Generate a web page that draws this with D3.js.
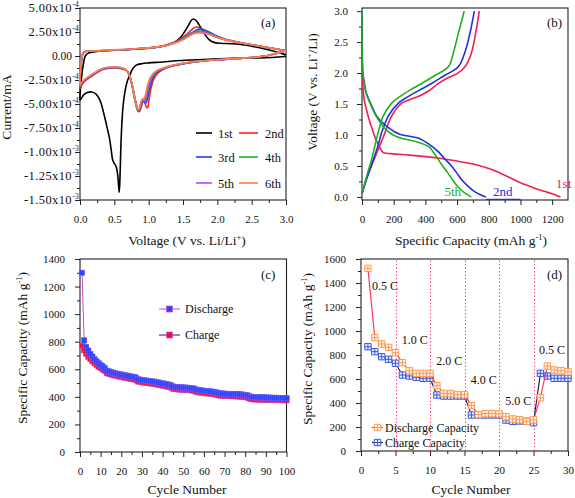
<!DOCTYPE html>
<html><head><meta charset="utf-8">
<script src="https://cdn.jsdelivr.net/npm/d3@7"></script>
<style>
body{margin:0;background:#fff}
svg{display:block}
text{font-family:"Liberation Serif","Times New Roman",serif;fill:#111}
.tick text{font-size:11px;font-family:"Liberation Serif","Times New Roman",serif;fill:#111}
.tick line{stroke:#222}
</style></head><body>
<svg id="c" width="575" height="498"></svg>
<script>
// ---------------- Panel (a): cyclic voltammetry, [V, I(mA)] ----------------
const cvNames = ["1st","2nd","3rd","4th","5th","6th"];
const cvColors = ["#000000","#ff2020","#2040ff","#20b020","#c040f0","#ff7f40"];
const cv1st = [
[3.00,-0.05e-4],[2.80,-0.15e-4],[2.60,-0.2e-4],[2.40,-0.22e-4],[2.20,-0.25e-4],[2.00,-0.3e-4],[1.80,-0.36e-4],[1.60,-0.42e-4],[1.40,-0.5e-4],[1.20,-0.62e-4],[1.00,-0.72e-4],[0.90,-0.8e-4],[0.82,-0.95e-4],[0.77,-1.3e-4],[0.73,-1.9e-4],[0.69,-2.6e-4],[0.66,-3.5e-4],[0.63,-5.0e-4],[0.61,-7.0e-4],[0.595,-9.5e-4],[0.583,-12.5e-4],[0.572,-14.2e-4],[0.562,-13.5e-4],[0.548,-12.3e-4],[0.525,-11.5e-4],[0.50,-11.2e-4],[0.475,-10.8e-4],[0.455,-9.8e-4],[0.43,-8.6e-4],[0.39,-7.3e-4],[0.34,-5.8e-4],[0.29,-4.6e-4],[0.23,-3.95e-4],[0.17,-3.75e-4],[0.11,-3.8e-4],[0.06,-4.0e-4],[0.02,-4.4e-4],[0.00,-4.6e-4],
[0.005,-3.6e-4],[0.02,-2.4e-4],[0.045,-1.0e-4],[0.08,0.05e-4],[0.12,0.3e-4],[0.20,0.42e-4],[0.40,0.55e-4],[0.60,0.63e-4],[0.80,0.72e-4],[1.00,0.82e-4],[1.15,0.95e-4],[1.28,1.15e-4],[1.38,1.45e-4],[1.46,1.9e-4],[1.53,2.6e-4],[1.58,3.2e-4],[1.62,3.7e-4],[1.65,3.85e-4],[1.69,3.7e-4],[1.73,3.3e-4],[1.78,2.7e-4],[1.83,2.15e-4],[1.88,1.7e-4],[1.95,1.42e-4],[2.05,1.32e-4],[2.20,1.28e-4],[2.40,1.15e-4],[2.60,0.88e-4],[2.80,0.55e-4],[2.92,0.3e-4],[3.00,0.1e-4]];
const cv2nd = [
[3.0,0.55e-4],[2.85,0.25e-4],[2.7,0.0],[2.5,-0.15e-4],[2.3,-0.25e-4],[2.1,-0.35e-4],[1.9,-0.45e-4],[1.7,-0.6e-4],[1.55,-0.75e-4],[1.4,-0.95e-4],[1.3,-1.15e-4],[1.2,-1.45e-4],[1.12,-1.9e-4],[1.07,-2.5e-4],[1.03,-3.5e-4],[1.0,-4.8e-4],[0.985,-5.4e-4],[0.965,-5.3e-4],[0.94,-4.8e-4],[0.92,-4.75e-4],[0.895,-5.2e-4],[0.87,-5.75e-4],[0.85,-5.8e-4],[0.83,-5.4e-4],[0.8,-4.5e-4],[0.77,-3.4e-4],[0.74,-2.5e-4],[0.71,-1.85e-4],[0.67,-1.5e-4],[0.6,-1.32e-4],[0.5,-1.25e-4],[0.4,-1.3e-4],[0.3,-1.5e-4],[0.2,-1.95e-4],[0.12,-2.35e-4],[0.06,-2.7e-4],[0.02,-3.1e-4],[0.0,-3.4e-4],
[0.0,-2.6e-4],[0.015,-1.2e-4],[0.035,0.1e-4],[0.06,0.4e-4],[0.12,0.5e-4],[0.3,0.55e-4],[0.5,0.62e-4],[0.7,0.68e-4],[0.9,0.78e-4],[1.1,0.92e-4],[1.25,1.15e-4],[1.38,1.45e-4],[1.48,1.85e-4],[1.56,2.3e-4],[1.62,2.7e-4],[1.68,3.0e-4],[1.74,2.95e-4],[1.82,2.6e-4],[1.92,2.15e-4],[2.05,1.8e-4],[2.2,1.55e-4],[2.4,1.3e-4],[2.6,1.05e-4],[2.8,0.8e-4],[3.0,0.55e-4]];
const cv3rd = [
[3.0,0.55e-4],[2.85,0.25e-4],[2.7,0.0],[2.5,-0.15e-4],[2.3,-0.25e-4],[2.1,-0.35e-4],[1.9,-0.45e-4],[1.7,-0.6e-4],[1.55,-0.75e-4],[1.4,-0.95e-4],[1.3,-1.12e-4],[1.2,-1.38e-4],[1.1,-1.85e-4],[1.05,-2.5e-4],[1.01,-3.5e-4],[0.98,-4.5e-4],[0.96,-4.9e-4],[0.94,-4.8e-4],[0.92,-4.7e-4],[0.895,-5.1e-4],[0.87,-5.6e-4],[0.85,-5.7e-4],[0.83,-5.3e-4],[0.8,-4.4e-4],[0.77,-3.3e-4],[0.74,-2.4e-4],[0.71,-1.8e-4],[0.67,-1.45e-4],[0.6,-1.28e-4],[0.5,-1.2e-4],[0.4,-1.25e-4],[0.3,-1.45e-4],[0.2,-1.9e-4],[0.12,-2.3e-4],[0.06,-2.6e-4],[0.02,-3.0e-4],[0.0,-3.3e-4],
[0.0,-2.5e-4],[0.015,-1.1e-4],[0.035,0.1e-4],[0.06,0.4e-4],[0.12,0.5e-4],[0.3,0.55e-4],[0.5,0.62e-4],[0.7,0.68e-4],[0.9,0.78e-4],[1.1,0.9e-4],[1.25,1.1e-4],[1.38,1.4e-4],[1.48,1.75e-4],[1.58,2.2e-4],[1.66,2.55e-4],[1.74,2.8e-4],[1.8,2.75e-4],[1.88,2.5e-4],[1.96,2.2e-4],[2.08,1.85e-4],[2.2,1.6e-4],[2.4,1.3e-4],[2.6,1.05e-4],[2.8,0.8e-4],[3.0,0.55e-4]];
const cv4th = [
[3.0,0.55e-4],[2.85,0.25e-4],[2.7,0.0],[2.5,-0.15e-4],[2.3,-0.25e-4],[2.1,-0.35e-4],[1.9,-0.45e-4],[1.7,-0.58e-4],[1.55,-0.72e-4],[1.4,-0.92e-4],[1.3,-1.1e-4],[1.2,-1.32e-4],[1.1,-1.7e-4],[1.04,-2.3e-4],[1.0,-3.2e-4],[0.97,-4.2e-4],[0.945,-4.7e-4],[0.925,-4.6e-4],[0.905,-4.75e-4],[0.88,-5.3e-4],[0.86,-5.65e-4],[0.84,-5.7e-4],[0.82,-5.3e-4],[0.79,-4.3e-4],[0.76,-3.2e-4],[0.73,-2.3e-4],[0.7,-1.75e-4],[0.66,-1.42e-4],[0.6,-1.25e-4],[0.5,-1.18e-4],[0.4,-1.23e-4],[0.3,-1.42e-4],[0.2,-1.85e-4],[0.12,-2.25e-4],[0.06,-2.55e-4],[0.02,-2.9e-4],[0.0,-3.2e-4],
[0.0,-2.4e-4],[0.015,-1.0e-4],[0.035,0.1e-4],[0.06,0.4e-4],[0.12,0.5e-4],[0.3,0.55e-4],[0.5,0.62e-4],[0.7,0.68e-4],[0.9,0.78e-4],[1.1,0.9e-4],[1.25,1.1e-4],[1.38,1.38e-4],[1.48,1.7e-4],[1.57,2.1e-4],[1.65,2.45e-4],[1.73,2.6e-4],[1.8,2.55e-4],[1.88,2.35e-4],[1.96,2.1e-4],[2.08,1.8e-4],[2.2,1.58e-4],[2.4,1.3e-4],[2.6,1.05e-4],[2.8,0.8e-4],[3.0,0.55e-4]];
const cv5th = [
[3.0,0.55e-4],[2.85,0.25e-4],[2.7,0.0],[2.5,-0.15e-4],[2.3,-0.25e-4],[2.1,-0.35e-4],[1.9,-0.45e-4],[1.7,-0.58e-4],[1.55,-0.72e-4],[1.4,-0.9e-4],[1.3,-1.08e-4],[1.2,-1.3e-4],[1.1,-1.65e-4],[1.04,-2.2e-4],[0.995,-3.1e-4],[0.965,-4.1e-4],[0.937,-4.6e-4],[0.918,-4.55e-4],[0.9,-4.7e-4],[0.875,-5.25e-4],[0.855,-5.6e-4],[0.84,-5.6e-4],[0.82,-5.2e-4],[0.79,-4.2e-4],[0.76,-3.1e-4],[0.73,-2.25e-4],[0.7,-1.72e-4],[0.66,-1.4e-4],[0.6,-1.23e-4],[0.5,-1.16e-4],[0.4,-1.2e-4],[0.3,-1.4e-4],[0.2,-1.82e-4],[0.12,-2.2e-4],[0.06,-2.5e-4],[0.02,-2.85e-4],[0.0,-3.1e-4],
[0.0,-2.3e-4],[0.015,-0.9e-4],[0.035,0.15e-4],[0.06,0.42e-4],[0.12,0.5e-4],[0.3,0.56e-4],[0.5,0.63e-4],[0.7,0.7e-4],[0.9,0.8e-4],[1.1,0.92e-4],[1.25,1.1e-4],[1.38,1.36e-4],[1.48,1.66e-4],[1.57,2.02e-4],[1.65,2.36e-4],[1.73,2.5e-4],[1.8,2.46e-4],[1.88,2.3e-4],[1.96,2.06e-4],[2.08,1.78e-4],[2.2,1.56e-4],[2.4,1.3e-4],[2.6,1.05e-4],[2.8,0.8e-4],[3.0,0.55e-4]];
const cv6th = [
[3.0,0.55e-4],[2.85,0.25e-4],[2.7,0.0],[2.5,-0.15e-4],[2.3,-0.25e-4],[2.1,-0.35e-4],[1.9,-0.45e-4],[1.7,-0.57e-4],[1.55,-0.7e-4],[1.4,-0.88e-4],[1.3,-1.05e-4],[1.2,-1.27e-4],[1.1,-1.6e-4],[1.03,-2.15e-4],[0.985,-3.0e-4],[0.955,-4.0e-4],[0.928,-4.5e-4],[0.91,-4.45e-4],[0.893,-4.65e-4],[0.872,-5.2e-4],[0.855,-5.6e-4],[0.84,-5.55e-4],[0.82,-5.1e-4],[0.79,-4.1e-4],[0.76,-3.0e-4],[0.73,-2.2e-4],[0.7,-1.7e-4],[0.66,-1.38e-4],[0.6,-1.21e-4],[0.5,-1.14e-4],[0.4,-1.18e-4],[0.3,-1.38e-4],[0.2,-1.8e-4],[0.12,-2.18e-4],[0.06,-2.48e-4],[0.02,-2.8e-4],[0.0,-3.05e-4],
[0.0,-2.2e-4],[0.015,-0.8e-4],[0.035,0.2e-4],[0.06,0.45e-4],[0.12,0.52e-4],[0.3,0.57e-4],[0.5,0.64e-4],[0.7,0.71e-4],[0.9,0.8e-4],[1.1,0.92e-4],[1.25,1.1e-4],[1.38,1.35e-4],[1.48,1.63e-4],[1.57,1.98e-4],[1.65,2.3e-4],[1.72,2.4e-4],[1.8,2.37e-4],[1.88,2.24e-4],[1.96,2.02e-4],[2.08,1.76e-4],[2.2,1.55e-4],[2.4,1.3e-4],[2.6,1.05e-4],[2.8,0.8e-4],[3.0,0.55e-4]];
const cvSeries = [cv1st, cv2nd, cv3rd, cv4th, cv5th, cv6th];
const aXTicks = [0,0.5,1,1.5,2,2.5,3];
const aXTickLabels = ["0.0","0.5","1.0","1.5","2.0","2.5","3.0"];
const aYTicks = [5e-4,2.5e-4,0,-2.5e-4,-5e-4,-7.5e-4,-1e-3,-1.25e-3,-1.5e-3];
const aYTickLabels = [["5.00x10","-4"],["2.50x10","-4"],["0.00",""],["-2.50x10","-4"],["-5.00x10","-4"],["-7.50x10","-4"],["-1.00x10","-3"],["-1.25x10","-3"],["-1.50x10","-3"]];

// ---------------- Panel (b): galvanostatic profiles, [capacity, V] ----------------
const gcNames = ["1st","2nd","5th"];
const gcColors = ["#f0204f","#2030e0","#20b020"];
const dis1st = [[0,3.0],[0,2.4],[3,1.9],[8,1.7],[15,1.55],[29,1.40],[45,1.25],[60,1.13],[80,0.98],[100,0.86],[118,0.77],[132,0.72],[150,0.705],[200,0.695],[300,0.675],[400,0.65],[500,0.62],[600,0.58],[700,0.53],[800,0.46],[850,0.41],[900,0.35],[950,0.29],[1000,0.23],[1050,0.18],[1100,0.13],[1150,0.09],[1200,0.05],[1253,0.0]];
const cha1st = [[0,0.05],[30,0.3],[60,0.5],[100,0.75],[144,1.03],[186,1.3],[249,1.51],[300,1.57],[354,1.62],[420,1.71],[481,1.83],[540,1.92],[600,1.99],[650,2.1],[690,2.32],[717,2.64],[740,3.0]];
const dis2nd = [[0,3.0],[0,2.6],[2,2.2],[6,2.0],[14,1.85],[28,1.67],[56,1.5],[94,1.3],[171,1.11],[238,1.01],[300,0.98],[354,0.95],[418,0.86],[481,0.73],[520,0.62],[565,0.5],[600,0.38],[628,0.28],[670,0.17],[713,0.08],[750,0.03],[782,0.0]];
const cha2nd = [[0,0.05],[30,0.3],[60,0.52],[100,0.82],[123,1.03],[165,1.3],[228,1.51],[291,1.62],[360,1.72],[439,1.83],[520,1.96],[608,2.1],[650,2.34],[681,2.64],[709,3.0]];
const dis5th = [[0,3.0],[0,2.6],[2,2.2],[5,2.0],[12,1.85],[25,1.68],[53,1.5],[90,1.3],[143,1.11],[196,1.0],[260,0.94],[333,0.9],[400,0.84],[428,0.8],[450,0.72],[470,0.65],[500,0.53],[544,0.38],[575,0.26],[607,0.16],[650,0.06],[690,0.0]];
const cha5th = [[0,0.05],[30,0.34],[60,0.6],[101,1.03],[133,1.3],[186,1.51],[239,1.62],[300,1.72],[376,1.83],[460,1.96],[545,2.1],[580,2.36],[608,2.64],[645,3.0]];
const tail2nd = [[782,-0.04],[1000,-0.04]];
const bXTicks = [0,200,400,600,800,1000,1200];
const bXTickLabels = ["0","200","400","600","800","1000","1200"];
const bYTicks = [0,0.5,1,1.5,2,2.5,3];
const bYTickLabels = ["0.0","0.5","1.0","1.5","2.0","2.5","3.0"];

// ---------------- Panel (c): cycling at constant rate ----------------
const cDischarge = [
1300,810,762,735,712,692,674,658,644,632,
620,608,590,585,580,576,572,568,565,562,
559,556,553,550,547,544,540,528,525,522,
520,518,516,514,512,510,507,504,501,498,
495,492,489,485,475,473,471,470,469,468,
467,466,465,463,461,455,450,448,446,444,
442,441,440,438,436,433,428,425,424,423,
422,422,421,421,420,420,419,418,416,414,
412,405,400,398,398,397,397,396,396,395,
395,394,394,393,393,393,392,392,392,391];
const cCharge = [
770,738,712,692,675,659,645,632,620,609,
598,588,572,567,563,559,555,551,548,545,
542,539,536,533,530,527,523,512,509,506,
504,502,500,498,496,494,491,488,485,482,
479,476,473,469,459,457,455,454,453,452,
451,450,449,447,445,439,434,432,430,428,
426,425,424,422,420,417,412,409,408,407,
406,406,405,405,404,404,403,402,400,398,
396,389,384,382,382,381,381,380,380,379,
379,378,378,377,377,377,376,376,376,375];
const cXTicks = [0,10,20,30,40,50,60,70,80,90,100];
const cXTickLabels = ["0","10","20","30","40","50","60","70","80","90","100"];
const cYTicks = [0,200,400,600,800,1000,1200,1400];
const cYTickLabels = ["0","200","400","600","800","1000","1200","1400"];

// ---------------- Panel (d): rate capability ----------------
const dDischarge = [1522,944,892,864,819,736,669,647,647,647,544,480,478,470,470,378,303,312,312,310,286,267,260,247,260,444,708,675,669,660];
const dCharge = [869,828,786,764,731,633,625,614,606,606,467,458,458,458,458,300,300,300,300,300,258,247,250,247,236,647,625,606,606,606];
const dRateBreaks = [5,10,15,20,25];
const dRateLabels = ["0.5 C","1.0 C","2.0 C","4.0 C","5.0 C","0.5 C"];
const dRateLabelAt = [[1.6,1383],[5.9,933],[10.9,758],[15.9,592],[20.9,417],[25.8,850]];
const dXTicks = [0,5,10,15,20,25,30];
const dXTickLabels = ["0","5","10","15","20","25","30"];
const dYTicks = [0,200,400,600,800,1000,1200,1400,1600];
const dYTickLabels = ["0","200","400","600","800","1000","1200","1400","1600"];

// ================= drawing =================
const svg = d3.select("#c");

function frameAxes(g, x, y, o){
  const [xl,xr] = x.range(), [yb,yt] = y.range();
  const styl = s => { s.attr("font-size",null).attr("font-family",null); s.select(".domain").remove(); s.selectAll("line").attr("stroke","#222"); };
  g.append("g").attr("transform",`translate(0,${yb})`)
    .call(d3.axisBottom(x).tickValues(o.xMaj).tickFormat((d,i)=>o.xLab[i]).tickSize(5).tickPadding(o.xPad||10)).call(styl);
  g.append("g").attr("transform",`translate(0,${yb})`)
    .call(d3.axisBottom(x).tickValues(o.xMin).tickFormat("").tickSize(3)).call(styl);
  g.append("g").attr("transform",`translate(${xl},0)`)
    .call(d3.axisLeft(y).tickValues(o.yMaj).tickFormat((d,i)=>o.yLab ? o.yLab[i] : "").tickSize(5).tickPadding(o.yPad||9)).call(styl);
  g.append("g").attr("transform",`translate(${xl},0)`)
    .call(d3.axisLeft(y).tickValues(o.yMin).tickFormat("").tickSize(3)).call(styl);
  g.append("rect").attr("x",xl).attr("y",yt).attr("width",xr-xl).attr("height",yb-yt)
    .attr("fill","none").attr("stroke","#222").attr("stroke-width",1.1);
}
function title(g, txt, x, y, rot){
  const t = g.append("text").attr("font-size",13.5).attr("text-anchor","middle")
    .attr("transform", rot ? `translate(${x},${y}) rotate(-90)` : `translate(${x},${y})`);
  txt.forEach(p => {
    if (p.sup) t.append("tspan").attr("font-size",8.5).attr("dy",-5).text(p.t);
    else t.append("tspan").attr("dy", p.after ? 5 : 0).text(p.t);
  });
}

// ---- Panel (a)
{
  const g = svg.append("g");
  const x = d3.scaleLinear().domain([0,3]).range([80,286]);
  const y = d3.scaleLinear().domain([-1.5e-3,5e-4]).range([200,8]);
  const minorY = aYTicks.slice(0,-1).map((v,i)=> (v + aYTicks[i+1])/2);
  const minorX = aXTicks.slice(0,-1).map((v,i)=> (v + aXTicks[i+1])/2);
  frameAxes(g, x, y, {xMaj:aXTicks, xLab:aXTickLabels, xMin:minorX, yMaj:aYTicks, yLab:null, yMin:minorY});
  aYTicks.forEach((v,i)=>{
    const [m,e] = aYTickLabels[i];
    g.append("text").attr("x",72).attr("y",y(v)+4).attr("text-anchor","end")
      .attr("font-size", e ? 12.5 : 11.5).attr("letter-spacing", e ? 0.4 : 0).text(m);
    if (e) g.append("text").attr("x",72.5).attr("y",y(v)-1.5).attr("font-size",7.5).text(e);
  });
  const line = d3.line().x(d=>x(d[0])).y(d=>y(d[1])).curve(d3.curveCatmullRom.alpha(0.5));
  cvSeries.forEach((s,i)=>{
    g.append("path").datum(s).attr("d",line).attr("fill","none").attr("stroke",cvColors[i]).attr("stroke-width",1.6).attr("stroke-linejoin","round");
  });
  const cols = [[196,212,218],[239,258,265]], rows = [133,157,183];
  cvNames.forEach((n,i)=>{
    const c = cols[i%2], r = rows[Math.floor(i/2)];
    g.append("line").attr("x1",c[0]).attr("x2",c[1]).attr("y1",r).attr("y2",r).attr("stroke",cvColors[i]).attr("stroke-width",1.6);
    g.append("text").attr("x",c[2]).attr("y",r+4.5).attr("font-size",12.5).text(n);
  });
  g.append("text").attr("x",261).attr("y",27).attr("font-size",13).text("(a)");
  title(g, [{t:"Voltage (V vs. Li/Li"},{t:"+",sup:true},{t:")",after:true}], 187, 245, false);
  title(g, [{t:"Current/mA"}], 11, 107, true);
}

// ---- Panel (b)
{
  const g = svg.append("g");
  const x = d3.scaleLinear().domain([0,1300]).range([362,568]);
  const y = d3.scaleLinear().domain([-0.05,3.05]).range([200,8]);
  frameAxes(g, x, y, {xMaj:bXTicks, xLab:bXTickLabels, xMin:[100,300,500,700,900,1100],
    yMaj:bYTicks, yLab:bYTickLabels, yMin:[0.25,0.75,1.25,1.75,2.25,2.75]});
  const line = d3.line().x(d=>x(d[0])).y(d=>y(d[1])).curve(d3.curveCatmullRom.alpha(0.5));
  const sets = [[dis1st,cha1st],[dis2nd,cha2nd],[dis5th,cha5th]];
  sets.forEach((pair,i)=> pair.forEach(s=>{
    g.append("path").datum(s).attr("d",line).attr("fill","none").attr("stroke",gcColors[i]).attr("stroke-width",1.6);
  }));
  g.append("path").datum(tail2nd).attr("d",d3.line().x(d=>x(d[0])).y(d=>y(d[1]))).attr("fill","none").attr("stroke",gcColors[1]).attr("stroke-width",1.4);
  const labAt = [[1225,0.12],[827,0.0],[520,0.0]];
  gcNames.forEach((n,i)=>{
    g.append("text").attr("x",x(labAt[i][0])).attr("y",y(labAt[i][1])-1).attr("font-size",13).style("fill",gcColors[i]).text(n);
  });
  g.append("text").attr("x",547).attr("y",27).attr("font-size",13).text("(b)");
  title(g, [{t:"Specific Capacity (mAh g"},{t:"-1",sup:true},{t:")",after:true}], 471, 245, false);
  title(g, [{t:"Voltage (V vs. Li"},{t:"+",sup:true},{t:"/Li)",after:true}], 317, 92, true);
}

// ---- Panel (c)
{
  const g = svg.append("g");
  const x = d3.scaleLinear().domain([0,100]).range([80,286.5]);
  const y = d3.scaleLinear().domain([0,1400]).range([452,259]);
  frameAxes(g, x, y, {xMaj:cXTicks, xLab:cXTickLabels, xMin:[5,15,25,35,45,55,65,75,85,95],
    yMaj:cYTicks, yLab:cYTickLabels, yMin:[100,300,500,700,900,1100,1300], yPad:10});
  const line = d3.line().x((d,i)=>x(i+1)).y(d=>y(d));
  g.append("path").datum(cCharge).attr("d",line).attr("fill","none").attr("stroke","#1a1a70").attr("stroke-width",1);
  g.selectAll(".mc").data(cCharge).join("rect").attr("x",(d,i)=>x(i+1)-2.7).attr("y",d=>y(d)-2.7)
    .attr("width",5.4).attr("height",5.4).attr("fill","#f01040").attr("stroke","#c050d8").attr("stroke-width",0.5);
  g.append("path").datum(cDischarge).attr("d",line).attr("fill","none").attr("stroke","#d040d0").attr("stroke-width",1);
  g.selectAll(".md").data(cDischarge).join("rect").attr("x",(d,i)=>x(i+1)-2.7).attr("y",d=>y(d)-2.7)
    .attr("width",5.4).attr("height",5.4).attr("fill","#2a46ff").attr("stroke","#8a5cf0").attr("stroke-width",0.4);
  const leg = [["Discharge","#d040d0","#2a46ff",309],["Charge","#1a1a70","#f01040",335]];
  leg.forEach(l=>{
    g.append("line").attr("x1",159).attr("x2",180).attr("y1",l[3]).attr("y2",l[3]).attr("stroke",l[1]).attr("stroke-width",1);
    g.append("rect").attr("x",169.5-3).attr("y",l[3]-3).attr("width",6).attr("height",6).attr("fill",l[2]).attr("stroke","#d050d0").attr("stroke-width",0.7);
    g.append("text").attr("x",185).attr("y",l[3]+4).attr("font-size",12).text(l[0]);
  });
  g.append("text").attr("x",261).attr("y",279).attr("font-size",13).text("(c)");
  title(g, [{t:"Cycle Number"}], 187, 494, false);
  title(g, [{t:"Specific Capacity (mAh g"},{t:"-1",sup:true},{t:")",after:true}], 27, 348, true);
}

// ---- Panel (d)
{
  const g = svg.append("g");
  const x = d3.scaleLinear().domain([0,30]).range([361,568]);
  const y = d3.scaleLinear().domain([0,1600]).range([451,259]);
  frameAxes(g, x, y, {xMaj:dXTicks, xLab:dXTickLabels, xMin:[2.5,7.5,12.5,17.5,22.5,27.5],
    yMaj:dYTicks, yLab:dYTickLabels, yMin:[100,300,500,700,900,1100,1300,1500], yPad:10});
  dRateBreaks.forEach(b=>{
    const xb = Math.round(x(b)) + 0.5;
    g.append("line").attr("x1",xb).attr("x2",xb).attr("y1",y(0)).attr("y2",y(1600))
      .attr("stroke","#ff4a80").attr("stroke-width",1.1).attr("stroke-dasharray","1.5,2");
  });
  const line = d3.line().x((d,i)=>x(i+1)).y(d=>y(d));
  const mk = "M-3.2,-3.2h6.4v6.4h-6.4z M0,-3.2v6.4 M-3.2,0h6.4";
  g.append("path").datum(dCharge).attr("d",line).attr("fill","none").attr("stroke","#141450").attr("stroke-width",1.1);
  g.selectAll(".pc").data(dCharge).join("path").attr("d",mk).attr("transform",(d,i)=>`translate(${x(i+1)},${y(d)})`)
    .attr("fill","#e8ecff").attr("stroke","#3a58e0").attr("stroke-width",1);
  g.append("path").datum(dDischarge).attr("d",line).attr("fill","none").attr("stroke","#ff2a55").attr("stroke-width",1.1);
  g.selectAll(".pd").data(dDischarge).join("path").attr("d",mk).attr("transform",(d,i)=>`translate(${x(i+1)},${y(d)})`)
    .attr("fill","#fff4ec").attr("stroke","#ff9a50").attr("stroke-width",1);
  dRateLabels.forEach((t,i)=>{
    g.append("text").attr("x",x(dRateLabelAt[i][0])).attr("y",y(dRateLabelAt[i][1])+4.5).attr("font-size",12).text(t);
  });
  const leg = [["Discharge Capacity","#ff2a55","#ff9a50","#fff4ec",427.5],["Charge Capacity","#141450","#3a58e0","#e8ecff",442.5]];
  leg.forEach(l=>{
    g.append("line").attr("x1",372).attr("x2",383).attr("y1",l[4]).attr("y2",l[4]).attr("stroke",l[1]).attr("stroke-width",1.1);
    g.append("path").attr("d",mk).attr("transform",`translate(377.5,${l[4]})`).attr("fill",l[3]).attr("stroke",l[2]).attr("stroke-width",1);
    g.append("text").attr("x",385).attr("y",l[4]+4).attr("font-size",12).text(l[0]);
  });
  g.append("text").attr("x",547).attr("y",279).attr("font-size",13).text("(d)");
  title(g, [{t:"Cycle Number"}], 471, 494, false);
  title(g, [{t:"Specific Capacity (mAh g"},{t:"-1",sup:true},{t:")",after:true}], 312, 349, true);
}
</script></body></html>
